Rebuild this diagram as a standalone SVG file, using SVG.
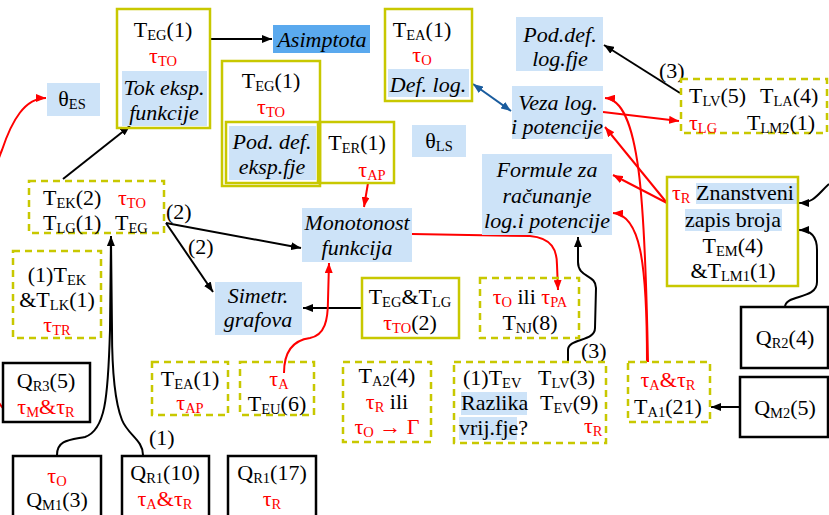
<svg xmlns="http://www.w3.org/2000/svg" width="829" height="515" viewBox="0 0 829 515">
<defs>
<style>
text{font-family:"Liberation Serif","Times New Roman",serif;font-size:22px;fill:#000}
.c{text-anchor:middle}
.i{font-style:italic}
.r{fill:#f00}
.s{font-size:14.5px}
.ys{fill:none;stroke:#c8c800;stroke-width:2.5}
.yd{fill:none;stroke:#c8c800;stroke-width:2.5;stroke-dasharray:7 5}
.bk{fill:#fff;stroke:#000;stroke-width:2.5}
.lb{fill:#cde3f8}
.hb{fill:#cde3f8}
.ab{fill:none;stroke:#000;stroke-width:2;marker-end:url(#mb)}
.ar{fill:none;stroke:#f00;stroke-width:2;marker-end:url(#mr)}
</style>
<marker id="mb" markerUnits="userSpaceOnUse" markerWidth="10" markerHeight="8" refX="10" refY="4" orient="auto"><path d="M0,0 L10,4 L0,8 z" fill="#000"/></marker>
<marker id="mr" markerUnits="userSpaceOnUse" markerWidth="10" markerHeight="8" refX="10" refY="4" orient="auto"><path d="M0,0 L10,4 L0,8 z" fill="#f00"/></marker>
<marker id="mu" markerUnits="userSpaceOnUse" markerWidth="10" markerHeight="8" refX="10" refY="4" orient="auto-start-reverse"><path d="M0,0 L10,4 L0,8 z" fill="#1a5c9e"/></marker>
</defs>
<rect width="829" height="515" fill="#fff"/>

<g id="connectors">
<path class="ab" d="M210,39 L272,39"/>
<path class="ab" d="M63,179 L130,126"/>
<path class="ab" d="M166,223 L301,248"/>
<path class="ab" d="M166,223 L213,292"/>
<path class="ab" d="M362,308 L303,308"/>
<path class="ab" d="M57,455 C57,440 70,440 85,437 C105,430 108,400 110,330 L111,236"/>
<path fill="none" stroke="#000" stroke-width="2" d="M143,455 C143,440 128,435 122,420 C114,400 112,360 112,330 L111,240"/>
<path class="ab" d="M680,93 L604,45"/>
<path fill="none" stroke="#1a5c9e" stroke-width="2" marker-start="url(#mu)" marker-end="url(#mu)" d="M473,84 L511,111"/>
<path class="ab" d="M568,362 L568,350 C568,338 595,342 595,328 L596,288 C596,274 578,278 578,262 L578,237"/>
<path class="ab" d="M829,184 C818,194 814,203 799,203"/>
<path class="ab" d="M785,307 C785,294 817,300 817,282 L817,250 C817,236 810,230 799,230"/>
<path class="ab" d="M740,407 L711,407"/>
<path class="ar" d="M3,408 C-25,380 -20,200 2,150 C12,120 25,98 46,98"/>
<path class="ar" d="M368,183 L364,207"/>
<path class="ar" d="M284,373 C284,350 295,340 310,338 C325,335 328,320 328,300 L329,263"/>
<path class="ar" d="M412,234 L530,236 C552,238 557,250 557,265 L558,290"/>
<path class="ar" d="M603,112 L679,121"/>
<path class="ar" d="M667,203 L605,127"/>
<path class="ar" d="M667,203 L613,175"/>
<path class="ar" d="M648,362 C645,200 640,100 605,98"/>
<path class="ar" d="M647,362 C647,260 640,215 613,213"/>
<text x="659" y="78">(3)</text>
<text x="166" y="219">(2)</text>
<text x="188" y="254">(2)</text>
<text x="149" y="445">(1)</text>
<text x="581" y="358">(3)</text>
</g>

<g id="n_tok">
<rect class="lb" x="122" y="71" width="85" height="55"/>
<rect class="ys" x="117" y="9" width="93" height="119"/>
<text class="c" x="163" y="37">T<tspan class="s" dy="3">EG</tspan><tspan dy="-3">(1)</tspan></text>
<text class="c r" x="163" y="63">τ<tspan class="s" dy="3">TO</tspan></text>
<text class="c i" x="164" y="95">Tok eksp.</text>
<text class="c i" x="164" y="120">funkcije</text>
</g>

<g id="n_asimptota">
<rect x="273" y="25" width="97" height="28" fill="#5aa9ee"/>
<text class="c i" x="322" y="47">Asimptota</text>
</g>

<g id="n_podexp">
<rect class="lb" x="229" y="126" width="87" height="54"/>
<rect class="ys" x="222" y="61" width="98" height="125"/>
<rect class="ys" x="226" y="122" width="92" height="61"/>
<text class="c" x="271" y="88">T<tspan class="s" dy="3">EG</tspan><tspan dy="-3">(1)</tspan></text>
<text class="c r" x="271" y="114">τ<tspan class="s" dy="3">TO</tspan></text>
<text class="c i" x="272" y="149">Pod. def.</text>
<text class="c i" x="272" y="174">eksp.fje</text>
</g>

<g id="n_ter">
<rect class="ys" x="320" y="122" width="74" height="61"/>
<text class="c" x="357" y="150">T<tspan class="s" dy="3">ER</tspan><tspan dy="-3">(1)</tspan></text>
<text class="c r" x="372" y="177">τ<tspan class="s" dy="3">AP</tspan></text>
</g>

<g id="n_thes">
<rect class="lb" x="47" y="83" width="53" height="33"/>
<text class="c" x="72" y="106">θ<tspan class="s" dy="3">ES</tspan></text>
</g>

<g id="n_deflog">
<rect class="lb" x="388" y="69" width="81" height="28"/>
<rect class="ys" x="385" y="9" width="87" height="92"/>
<text class="c" x="422" y="37">T<tspan class="s" dy="3">EA</tspan><tspan dy="-3">(1)</tspan></text>
<text class="c r" x="422" y="62">τ<tspan class="s" dy="3">O</tspan></text>
<text class="c i" x="428" y="92">Def. log.</text>
</g>

<g id="n_podlog">
<rect class="lb" x="516" y="17" width="87" height="54"/>
<text class="c i" x="560" y="42">Pod.def.</text>
<text class="c i" x="560" y="66">log.fje</text>
</g>

<g id="n_veza">
<rect class="lb" x="512" y="86" width="91" height="53"/>
<text class="c i" x="558" y="110">Veza log.</text>
<text class="c i" x="557" y="134">i potencije</text>
</g>

<g id="n_thls">
<rect class="lb" x="412" y="125" width="54" height="32"/>
<text class="c" x="439" y="148">θ<tspan class="s" dy="3">LS</tspan></text>
</g>

<g id="n_formule">
<rect class="lb" x="482" y="154" width="130" height="81"/>
<text class="c i" x="547" y="177">Formule za</text>
<text class="c i" x="547" y="203">računanje</text>
<text class="c i" x="547" y="228">log.i potencije</text>
</g>

<g id="n_tlv">
<rect class="yd" x="681" y="79" width="146" height="54"/>
<text x="689" y="103">T<tspan class="s" dy="3">LV</tspan><tspan dy="-3">(5)</tspan></text>
<text x="760" y="103">T<tspan class="s" dy="3">LA</tspan><tspan dy="-3">(4)</tspan></text>
<text class="r" x="689" y="130">τ<tspan class="s" dy="3">LG</tspan></text>
<text x="747" y="130">T<tspan class="s" dy="3">LM2</tspan><tspan dy="-3">(1)</tspan></text>
</g>

<g id="n_znanstveni">
<rect class="hb" x="696" y="183" width="101" height="21"/>
<rect class="hb" x="685" y="209" width="97" height="22"/>
<rect class="ys" x="667" y="177" width="131" height="109"/>
<text class="r" x="672" y="200">τ<tspan class="s" dy="3">R</tspan></text>
<text x="696" y="200">Znanstveni</text>
<text class="c" x="733" y="227">zapis broja</text>
<text class="c" x="733" y="253">T<tspan class="s" dy="3">EM</tspan><tspan dy="-3">(4)</tspan></text>
<text class="c" x="733" y="278">&amp;T<tspan class="s" dy="3">LM1</tspan><tspan dy="-3">(1)</tspan></text>
</g>

<g id="n_tek">
<rect class="yd" x="29" y="181" width="135" height="52"/>
<text x="43" y="205">T<tspan class="s" dy="3">EK</tspan><tspan dy="-3">(2)</tspan></text>
<text class="r" x="118" y="205">τ<tspan class="s" dy="3">TO</tspan></text>
<text x="43" y="230">T<tspan class="s" dy="3">LG</tspan><tspan dy="-3">(1)</tspan></text>
<text x="115" y="230">T<tspan class="s" dy="3">EG</tspan></text>
</g>

<g id="n_tek1">
<rect class="yd" x="13" y="251" width="88" height="87"/>
<text class="c" x="57" y="282">(1)T<tspan class="s" dy="3">EK</tspan></text>
<text class="c" x="57" y="307">&amp;T<tspan class="s" dy="3">LK</tspan><tspan dy="-3">(1)</tspan></text>
<text class="c r" x="57" y="332">τ<tspan class="s" dy="3">TR</tspan></text>
</g>

<g id="n_monotonost">
<rect class="lb" x="302" y="208" width="110" height="54"/>
<text class="c i" x="357" y="230">Monotonost</text>
<text class="c i" x="357" y="255">funkcija</text>
</g>

<g id="n_simetr">
<rect class="lb" x="215" y="282" width="87" height="53"/>
<text class="c i" x="258" y="303">Simetr.</text>
<text class="c i" x="258" y="327">grafova</text>
</g>

<g id="n_teglg">
<rect class="ys" x="362" y="278" width="97" height="60"/>
<text class="c" x="410" y="304">T<tspan class="s" dy="3">EG</tspan><tspan dy="-3">&amp;T</tspan><tspan class="s" dy="3">LG</tspan></text>
<text class="c" x="410" y="330"><tspan class="r">τ</tspan><tspan class="s r" dy="3">TO</tspan><tspan dy="-3">(2)</tspan></text>
</g>

<g id="n_tnj">
<rect class="yd" x="480" y="278" width="99" height="60"/>
<text class="c" x="530" y="304"><tspan class="r">τ</tspan><tspan class="s r" dy="3">O</tspan><tspan dy="-3">  ili  </tspan><tspan class="r">τ</tspan><tspan class="s r" dy="3">PA</tspan></text>
<text class="c" x="530" y="330">T<tspan class="s" dy="3">NJ</tspan><tspan dy="-3">(8)</tspan></text>
</g>

<g id="n_qr3">
<rect class="bk" x="3" y="363" width="87" height="59"/>
<text class="c" x="46" y="388">Q<tspan class="s" dy="3">R3</tspan><tspan dy="-3">(5)</tspan></text>
<text class="c r" x="46" y="414">τ<tspan class="s" dy="3">M</tspan><tspan dy="-3">&amp;τ</tspan><tspan class="s" dy="3">R</tspan></text>
</g>

<g id="n_tea">
<rect class="yd" x="152" y="362" width="76" height="53"/>
<text class="c" x="190" y="386">T<tspan class="s" dy="3">EA</tspan><tspan dy="-3">(1)</tspan></text>
<text class="c r" x="190" y="410">τ<tspan class="s" dy="3">AP</tspan></text>
</g>

<g id="n_teu">
<rect class="yd" x="240" y="362" width="74" height="53"/>
<text class="c r" x="279" y="386">τ<tspan class="s" dy="3">A</tspan></text>
<text class="c" x="277" y="411">T<tspan class="s" dy="3">EU</tspan><tspan dy="-3">(6)</tspan></text>
</g>

<g id="n_ta2">
<rect class="yd" x="343" y="362" width="88" height="80"/>
<text class="c" x="387" y="383">T<tspan class="s" dy="3">A2</tspan><tspan dy="-3">(4)</tspan></text>
<text class="c" x="387" y="409"><tspan class="r">τ</tspan><tspan class="s r" dy="3">R</tspan><tspan dy="-3">  ili</tspan></text>
<text class="c r" x="387" y="434">τ<tspan class="s" dy="3">O</tspan><tspan dy="-3"> → Γ</tspan></text>
</g>

<g id="n_tev">
<rect class="hb" x="461" y="392" width="66" height="23"/>
<rect class="hb" x="459" y="417" width="58" height="23"/>
<rect class="yd" x="454" y="362" width="152" height="81"/>
<text x="463" y="385">(1)T<tspan class="s" dy="3">EV</tspan></text>
<text x="538" y="385">T<tspan class="s" dy="3">LV</tspan><tspan dy="-3">(3)</tspan></text>
<text x="461" y="410">Razlika</text>
<text x="540" y="410">T<tspan class="s" dy="3">EV</tspan><tspan dy="-3">(9)</tspan></text>
<text x="459" y="435">vrij.fje?</text>
<text class="r" x="584" y="433">τ<tspan class="s" dy="3">R</tspan></text>
</g>

<g id="n_ta1">
<rect class="yd" x="628" y="362" width="82" height="60"/>
<text class="c r" x="668" y="387">τ<tspan class="s" dy="3">A</tspan><tspan dy="-3">&amp;τ</tspan><tspan class="s" dy="3">R</tspan></text>
<text class="c" x="668" y="414">T<tspan class="s" dy="3">A1</tspan><tspan dy="-3">(21)</tspan></text>
</g>

<g id="n_qr2">
<rect class="bk" x="741" y="307" width="87" height="61"/>
<text class="c" x="785" y="345">Q<tspan class="s" dy="3">R2</tspan><tspan dy="-3">(4)</tspan></text>
</g>

<g id="n_qm2">
<rect class="bk" x="740" y="377" width="88" height="60"/>
<text class="c" x="785" y="415">Q<tspan class="s" dy="3">M2</tspan><tspan dy="-3">(5)</tspan></text>
</g>

<g id="n_qm1">
<rect class="bk" x="13" y="456" width="88" height="70"/>
<text class="c r" x="57" y="483">τ<tspan class="s" dy="3">O</tspan></text>
<text class="c" x="57" y="507">Q<tspan class="s" dy="3">M1</tspan><tspan dy="-3">(3)</tspan></text>
</g>

<g id="n_qr1a">
<rect class="bk" x="122" y="456" width="87" height="70"/>
<text class="c" x="165" y="480">Q<tspan class="s" dy="3">R1</tspan><tspan dy="-3">(10)</tspan></text>
<text class="c r" x="165" y="506">τ<tspan class="s" dy="3">A</tspan><tspan dy="-3">&amp;τ</tspan><tspan class="s" dy="3">R</tspan></text>
</g>

<g id="n_qr1b">
<rect class="bk" x="228" y="456" width="88" height="70"/>
<text class="c" x="272" y="480">Q<tspan class="s" dy="3">R1</tspan><tspan dy="-3">(17)</tspan></text>
<text class="c r" x="272" y="506">τ<tspan class="s" dy="3">R</tspan></text>
</g>
</svg>
